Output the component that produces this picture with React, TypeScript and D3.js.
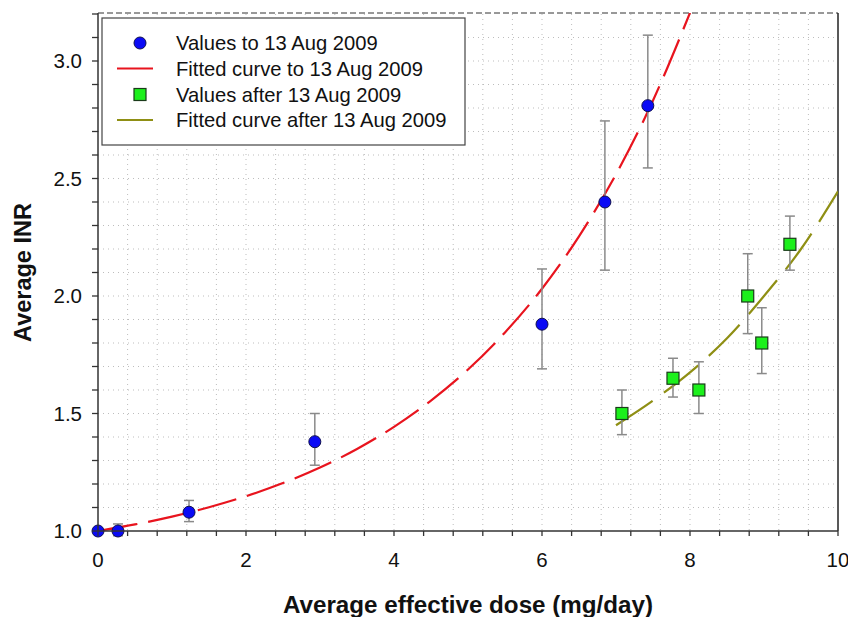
import React, { useEffect, useRef } from 'react';
import * as d3 from 'd3';

// Values to 13 Aug 2009 (blue circles)
const beforeDose = [0, 0.27, 1.23, 2.93, 6.0, 6.85, 7.43];
const beforeINR = [1.0, 1.0, 1.08, 1.38, 1.88, 2.4, 2.81];
const beforeLow = [1.0, 0.98, 1.04, 1.28, 1.69, 2.11, 2.545];
const beforeHigh = [1.0, 1.03, 1.13, 1.5, 2.115, 2.745, 3.11];

// Values after 13 Aug 2009 (green squares)
const afterDose = [7.08, 7.77, 8.12, 8.78, 8.97, 9.35];
const afterINR = [1.5, 1.65, 1.6, 2.0, 1.8, 2.22];
const afterLow = [1.41, 1.57, 1.5, 1.84, 1.67, 2.11];
const afterHigh = [1.6, 1.735, 1.72, 2.18, 1.95, 2.34];

// Fitted curves
const fitBeforeDose = [0, 0.5, 1, 1.5, 2, 2.5, 3, 3.5, 4, 4.5, 5, 5.5, 6, 6.5, 7, 7.5, 8];
const fitBeforeINR = [1.0, 1.028, 1.061, 1.101, 1.148, 1.204, 1.27, 1.349, 1.443, 1.555, 1.687, 1.845, 2.031, 2.254, 2.518, 2.832, 3.205];
const fitAfterDose = [7.0, 7.5, 8.0, 8.5, 9.0, 9.5, 10.0];
const fitAfterINR = [1.45, 1.555, 1.675, 1.82, 2.0, 2.2, 2.445];

const xMajor = [0, 2, 4, 6, 8, 10];
const yMajor = [1.0, 1.5, 2.0, 2.5, 3.0];

const legendItems = [
  { label: 'Values to 13 Aug 2009', kind: 'circle' },
  { label: 'Fitted curve to 13 Aug 2009', kind: 'redline' },
  { label: 'Values after 13 Aug 2009', kind: 'square' },
  { label: 'Fitted curve after 13 Aug 2009', kind: 'oliveline' },
];

const RED = '#e8141e';
const OLIVE = '#8f8f14';
const BLUE = '#0a0af5';
const GREEN = '#1cf01c';
const FONT = 'Arial, "Liberation Sans", sans-serif';

export default function App() {
  const svgRef = useRef<SVGSVGElement>(null);

  useEffect(() => {
    if (!svgRef.current) return;
    const svg = d3.select(svgRef.current);
    svg.selectAll('*').remove();

    const left = 98;
    const right = 838;
    const top = 14;
    const bottom = 531;

    const x = d3.scaleLinear().domain([0, 10]).range([left, right]);
    const y = d3.scaleLinear().domain([1, 3.2]).range([bottom, top]);

    svg
      .append('defs')
      .append('clipPath')
      .attr('id', 'plotclip')
      .append('rect')
      .attr('x', left)
      .attr('y', top - 1)
      .attr('width', right - left)
      .attr('height', bottom - top + 1);

    // Dotted grid
    const xMinor = d3.range(1, 25).map((i) => i * 0.4);
    const yMinor = d3.range(1, 22).map((i) => 1 + i * 0.1);
    const grid = svg.append('g').attr('stroke', '#bdbdbd').attr('stroke-dasharray', '1,4');
    grid
      .selectAll('.gx')
      .data(xMinor)
      .enter()
      .append('line')
      .attr('x1', (d) => x(d))
      .attr('x2', (d) => x(d))
      .attr('y1', top)
      .attr('y2', bottom);
    grid
      .selectAll('.gy')
      .data(yMinor)
      .enter()
      .append('line')
      .attr('x1', left)
      .attr('x2', right)
      .attr('y1', (d) => y(d))
      .attr('y2', (d) => y(d));

    // Frame: dashed top, solid right
    svg
      .append('line')
      .attr('x1', left)
      .attr('x2', right)
      .attr('y1', top - 1)
      .attr('y2', top - 1)
      .attr('stroke', '#333')
      .attr('stroke-dasharray', '6,3');
    svg
      .append('line')
      .attr('x1', right)
      .attr('x2', right)
      .attr('y1', top - 1)
      .attr('y2', bottom)
      .attr('stroke', '#222')
      .attr('stroke-width', 1.5);

    // Fitted curves
    const line = d3
      .line<[number, number]>()
      .x((d) => x(d[0]))
      .y((d) => y(d[1]))
      .curve(d3.curveMonotoneX);

    const curves = svg.append('g').attr('clip-path', 'url(#plotclip)').attr('fill', 'none');
    curves
      .append('path')
      .attr('d', line(fitBeforeDose.map((d, i) => [d, fitBeforeINR[i]] as [number, number])))
      .attr('stroke', RED)
      .attr('stroke-width', 2.2)
      .attr('stroke-dasharray', '40,11');
    curves
      .append('path')
      .attr('d', line(fitAfterDose.map((d, i) => [d, fitAfterINR[i]] as [number, number])))
      .attr('stroke', OLIVE)
      .attr('stroke-width', 2.2)
      .attr('stroke-dasharray', '44,14');

    // Error bars
    const errs = [
      ...beforeDose.map((d, i) => ({ d, lo: beforeLow[i], hi: beforeHigh[i] })),
      ...afterDose.map((d, i) => ({ d, lo: afterLow[i], hi: afterHigh[i] })),
    ].filter((e) => e.hi > e.lo);
    const eb = svg.append('g').attr('stroke', '#8a8a8a').attr('stroke-width', 1.5);
    errs.forEach((e) => {
      eb.append('line')
        .attr('x1', x(e.d))
        .attr('x2', x(e.d))
        .attr('y1', y(e.lo))
        .attr('y2', y(e.hi));
      [e.lo, e.hi].forEach((v) => {
        eb.append('line')
          .attr('x1', x(e.d) - 5)
          .attr('x2', x(e.d) + 5)
          .attr('y1', y(v))
          .attr('y2', y(v));
      });
    });

    // Points
    svg
      .append('g')
      .selectAll('circle')
      .data(beforeDose)
      .enter()
      .append('circle')
      .attr('cx', (d) => x(d))
      .attr('cy', (_d, i) => y(beforeINR[i]))
      .attr('r', 6)
      .attr('fill', BLUE)
      .attr('stroke', '#101050')
      .attr('stroke-width', 1);

    svg
      .append('g')
      .selectAll('rect')
      .data(afterDose)
      .enter()
      .append('rect')
      .attr('x', (d) => x(d) - 6)
      .attr('y', (_d, i) => y(afterINR[i]) - 6)
      .attr('width', 12)
      .attr('height', 12)
      .attr('fill', GREEN)
      .attr('stroke', '#1a3a1a')
      .attr('stroke-width', 1.2);

    // Axes
    const xAxis = svg.append('g');
    xAxis
      .append('line')
      .attr('x1', left)
      .attr('x2', right)
      .attr('y1', bottom)
      .attr('y2', bottom)
      .attr('stroke', '#333')
      .attr('stroke-width', 1.5);
    xAxis
      .selectAll('.xt')
      .data(d3.range(0, 26).map((i) => i * 0.4))
      .enter()
      .append('line')
      .attr('x1', (d) => x(d))
      .attr('x2', (d) => x(d))
      .attr('y1', bottom)
      .attr('y2', bottom + 5)
      .attr('stroke', '#333')
      .attr('stroke-width', 1.3);
    xAxis
      .selectAll('.xl')
      .data(xMajor)
      .enter()
      .append('text')
      .attr('x', (d) => x(d))
      .attr('y', 567)
      .attr('text-anchor', 'middle')
      .attr('font-family', FONT)
      .attr('font-size', '20.5px')
      .attr('fill', '#111')
      .text((d) => String(d));

    const yAxis = svg.append('g');
    yAxis
      .append('line')
      .attr('x1', left)
      .attr('x2', left)
      .attr('y1', top - 1)
      .attr('y2', bottom)
      .attr('stroke', '#333')
      .attr('stroke-width', 1.5);
    yAxis
      .selectAll('.yt')
      .data(d3.range(0, 23).map((i) => 1 + i * 0.1))
      .enter()
      .append('line')
      .attr('x1', left - 6)
      .attr('x2', left)
      .attr('y1', (d) => y(d))
      .attr('y2', (d) => y(d))
      .attr('stroke', '#333')
      .attr('stroke-width', 1.3);
    yAxis
      .selectAll('.yl')
      .data(yMajor)
      .enter()
      .append('text')
      .attr('x', 82)
      .attr('y', (d) => y(d) + 7)
      .attr('text-anchor', 'end')
      .attr('font-family', FONT)
      .attr('font-size', '20.5px')
      .attr('fill', '#111')
      .text((d) => d.toFixed(1));

    // Axis titles
    svg
      .append('text')
      .attr('x', (left + right) / 2)
      .attr('y', 613)
      .attr('text-anchor', 'middle')
      .attr('font-family', FONT)
      .attr('font-weight', 'bold')
      .attr('font-size', '24.2px')
      .attr('fill', '#111')
      .text('Average effective dose (mg/day)');
    svg
      .append('text')
      .attr('transform', `translate(31,${(top + bottom) / 2}) rotate(-90)`)
      .attr('text-anchor', 'middle')
      .attr('font-family', FONT)
      .attr('font-weight', 'bold')
      .attr('font-size', '23.5px')
      .attr('fill', '#111')
      .text('Average INR');

    // Legend
    const lg = svg.append('g');
    lg.append('rect')
      .attr('x', 102)
      .attr('y', 18)
      .attr('width', 363)
      .attr('height', 127)
      .attr('fill', '#fff')
      .attr('stroke', '#444')
      .attr('stroke-width', 1.2);
    const rowY = [43, 68.5, 94.5, 120];
    legendItems.forEach((item, i) => {
      const cy = rowY[i];
      if (item.kind === 'circle') {
        lg.append('circle')
          .attr('cx', 140)
          .attr('cy', cy)
          .attr('r', 6)
          .attr('fill', BLUE)
          .attr('stroke', '#101050');
      } else if (item.kind === 'square') {
        lg.append('rect')
          .attr('x', 134)
          .attr('y', cy - 6)
          .attr('width', 12)
          .attr('height', 12)
          .attr('fill', GREEN)
          .attr('stroke', '#1a3a1a')
          .attr('stroke-width', 1.2);
      } else {
        lg.append('line')
          .attr('x1', 117)
          .attr('x2', 153)
          .attr('y1', cy)
          .attr('y2', cy)
          .attr('stroke', item.kind === 'redline' ? RED : OLIVE)
          .attr('stroke-width', 2);
      }
      lg.append('text')
        .attr('x', 176)
        .attr('y', cy + 7)
        .attr('font-family', FONT)
        .attr('font-size', '20.2px')
        .attr('fill', '#111')
        .text(item.label);
    });
  }, []);

  return (
    <div style={{ position: 'absolute', left: 0, top: 0 }}>
      <svg ref={svgRef} width={848} height={617} style={{ display: 'block', background: '#fff' }} />
    </div>
  );
}
